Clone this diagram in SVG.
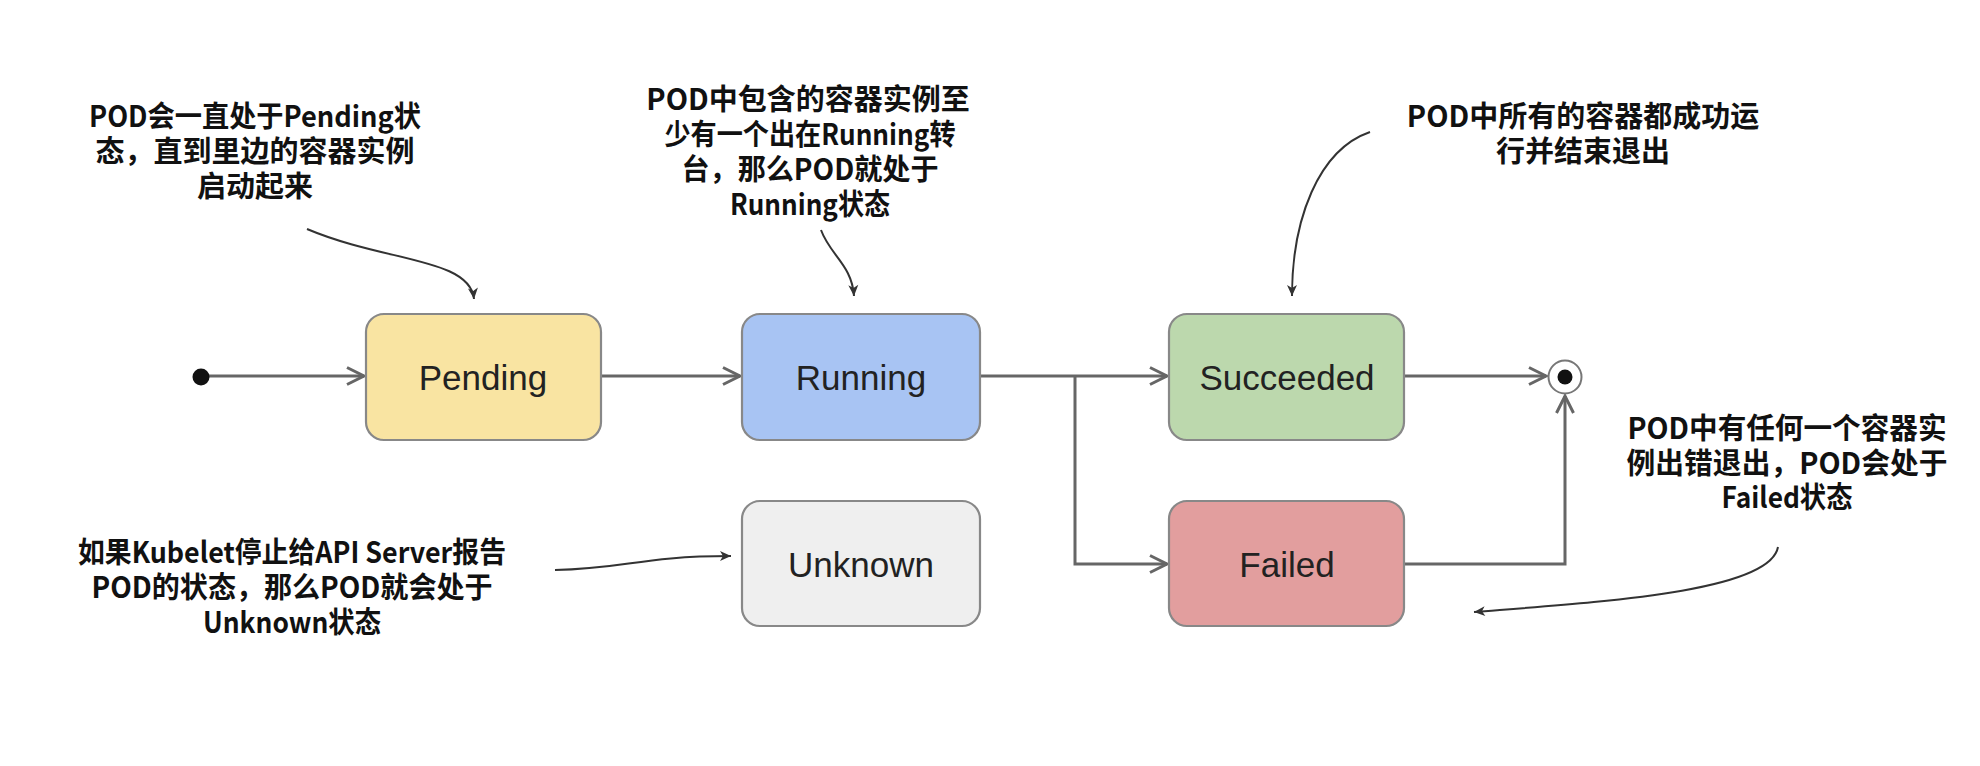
<svg xmlns="http://www.w3.org/2000/svg" width="1980" height="766" viewBox="0 0 1980 766">
<defs>
<style>
.box{stroke:#888;stroke-width:2.2}
.lbl{font-family:"Liberation Sans",Arial,sans-serif;font-size:35px;fill:#222;text-anchor:middle}
.note{font-family:"Noto Sans CJK SC","Noto Sans",sans-serif;font-weight:bold;font-size:29px;fill:#111;text-anchor:middle}
.flow{fill:none;stroke:#666;stroke-width:3}
.ann{fill:none;stroke:#333;stroke-width:2}
</style>
<marker id="chev" markerUnits="userSpaceOnUse" markerWidth="24" markerHeight="24" viewBox="0 0 24 24" refX="20" refY="12" orient="auto">
<path d="M3,3.5 L20,12 L3,20.5" fill="none" stroke="#666" stroke-width="3"/>
</marker>
<marker id="tri" markerUnits="userSpaceOnUse" markerWidth="14" markerHeight="14" viewBox="0 0 14 14" refX="12" refY="7" orient="auto">
<path d="M1,2 L12,7 L1,12 L4,7 Z" fill="#333"/>
</marker>
</defs>
<rect width="1980" height="766" fill="#fff"/>

<g id="connectors">
<path class="flow" d="M201,376 H364" marker-end="url(#chev)"/>
<path class="flow" d="M601,376 H740" marker-end="url(#chev)"/>
<path class="flow" d="M980,376 H1167" marker-end="url(#chev)"/>
<path class="flow" d="M1075,376 V564 H1167" marker-end="url(#chev)"/>
<path class="flow" d="M1404,376 H1546" marker-end="url(#chev)"/>
<path class="flow" d="M1404,564 H1565 V396" marker-end="url(#chev)"/>
<path class="ann" d="M307,229 C385,262 470,258 474,299" marker-end="url(#tri)"/>
<path class="ann" d="M821,230 C830,255 852,265 854,296" marker-end="url(#tri)"/>
<path class="ann" d="M1370,132 C1318,150 1292,220 1292,296" marker-end="url(#tri)"/>
<path class="ann" d="M1778,547 C1770,592 1600,602 1474,612" marker-end="url(#tri)"/>
<path class="ann" d="M555,570 C625,569 640,556 731,556" marker-end="url(#tri)"/>
</g>

<g id="start"><circle cx="201" cy="377" r="8.5" fill="#111"/></g>

<g id="pending">
<rect class="box" x="366" y="314" width="235" height="126" rx="18" fill="#f9e4a2"/>
<text class="lbl" x="483" y="390">Pending</text>
</g>
<g id="running">
<rect class="box" x="742" y="314" width="238" height="126" rx="18" fill="#a8c4f3"/>
<text class="lbl" x="861" y="390">Running</text>
</g>
<g id="succeeded">
<rect class="box" x="1169" y="314" width="235" height="126" rx="18" fill="#bcd8ad"/>
<text class="lbl" x="1287" y="390">Succeeded</text>
</g>
<g id="unknown">
<rect class="box" x="742" y="501" width="238" height="125" rx="18" fill="#efefef"/>
<text class="lbl" x="861" y="577">Unknown</text>
</g>
<g id="failed">
<rect class="box" x="1169" y="501" width="235" height="125" rx="18" fill="#e29e9e"/>
<text class="lbl" x="1287" y="577">Failed</text>
</g>
<g id="end">
<circle cx="1565" cy="377" r="16.5" fill="#fff" stroke="#777" stroke-width="2"/>
<circle cx="1565" cy="377" r="7.5" fill="#111"/>
</g>

<g id="note-pending">
<text class="note"><tspan x="255" y="127" textLength="332" lengthAdjust="spacingAndGlyphs">POD会一直处于Pending状</tspan><tspan x="255" y="162">态，直到里边的容器实例</tspan><tspan x="255" y="197">启动起来</tspan></text>
</g>
<g id="note-running">
<text class="note"><tspan x="808" y="110">POD中包含的容器实例至</tspan><tspan x="810" y="145" textLength="291" lengthAdjust="spacingAndGlyphs">少有一个出在Running转</tspan><tspan x="810" y="180" textLength="257" lengthAdjust="spacingAndGlyphs">台，那么POD就处于</tspan><tspan x="810" y="215" textLength="160" lengthAdjust="spacingAndGlyphs">Running状态</tspan></text>
</g>
<g id="note-succeeded">
<text class="note"><tspan x="1583" y="127">POD中所有的容器都成功运</tspan><tspan x="1583" y="162">行并结束退出</tspan></text>
</g>
<g id="note-failed">
<text class="note"><tspan x="1787" y="439" textLength="319" lengthAdjust="spacingAndGlyphs">POD中有任何一个容器实</tspan><tspan x="1787" y="474" textLength="321" lengthAdjust="spacingAndGlyphs">例出错退出，POD会处于</tspan><tspan x="1787" y="508" textLength="131" lengthAdjust="spacingAndGlyphs">Failed状态</tspan></text>
</g>
<g id="note-unknown">
<text class="note"><tspan x="292" y="563" textLength="428" lengthAdjust="spacingAndGlyphs">如果Kubelet停止给API Server报告</tspan><tspan x="292" y="598" textLength="401" lengthAdjust="spacingAndGlyphs">POD的状态，那么POD就会处于</tspan><tspan x="292" y="633" textLength="178" lengthAdjust="spacingAndGlyphs">Unknown状态</tspan></text>
</g>
</svg>
